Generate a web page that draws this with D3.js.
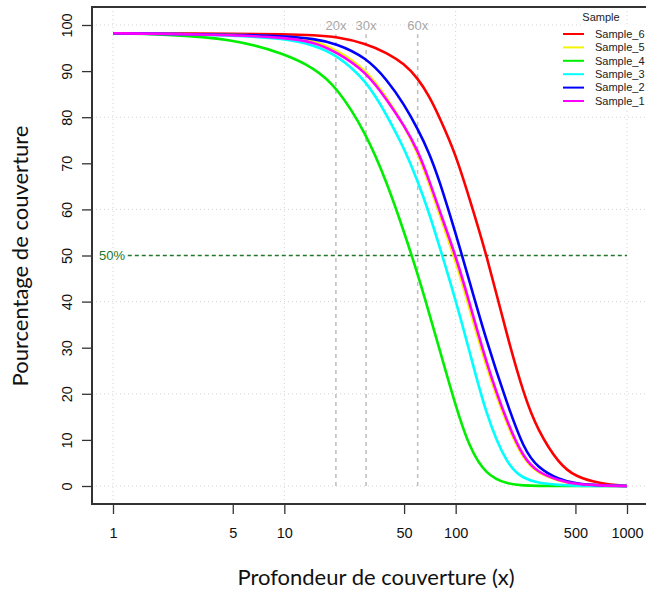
<!DOCTYPE html>
<html>
<head>
<meta charset="utf-8">
<script src="https://cdn.jsdelivr.net/npm/d3@7"></script>
<style>
  body { margin: 0; background: #fff; }
  svg { display: block; }
</style>
</head>
<body>
<div id="chart"></div>
<script>
// depth values (x) and coverage % per sample
var depths = [1, 2, 5, 10, 15, 20, 30, 40, 50, 60, 70, 80, 100, 120, 150, 200, 250, 300, 400, 500, 700, 1000];
var sample6 = [98.2, 98.2, 98.1, 98.0, 97.8, 97.5, 96.0, 93.9, 91.6, 88.5, 84.6, 80.2, 72.0, 62.5, 50.8, 32.4, 19.8, 12.2, 4.8, 2.0, 0.5, 0];
var sample5 = [98.2, 98.1, 97.9, 97.5, 96.6, 94.7, 90.4, 84.0, 78.2, 72.3, 65.6, 59.2, 48.8, 38.8, 26.0, 13.0, 5.6, 2.8, 1.1, 0.4, 0.1, 0];
var sample4 = [98.2, 98.0, 97.0, 93.8, 90.6, 86.8, 76.6, 65.5, 55.1, 46.0, 37.5, 30.0, 17.3, 8.4, 2.4, 0.4, 0.1, 0, 0, 0, 0, 0];
var sample3 = [98.2, 98.1, 97.7, 97.1, 95.6, 93.6, 88.1, 80.2, 73.3, 66.2, 59.2, 52.3, 40.3, 29.5, 15.5, 4.3, 1.6, 0.7, 0.2, 0.05, 0, 0];
var sample2 = [98.2, 98.1, 97.9, 97.6, 97.0, 96.0, 93.0, 88.0, 82.8, 77.5, 72.3, 66.5, 54.8, 44.6, 31.9, 17.7, 8.0, 4.0, 1.4, 0.5, 0.1, 0];
var sample1 = [98.2, 98.1, 97.8, 97.3, 96.3, 94.2, 89.9, 83.6, 78.2, 72.9, 66.4, 60.0, 50.0, 40.0, 27.0, 13.6, 6.0, 3.0, 1.2, 0.4, 0.1, 0];

var sampleNames = ["Sample_6", "Sample_5", "Sample_4", "Sample_3", "Sample_2", "Sample_1"];
var sampleColors = ["#ff0000", "#f5f500", "#00ee00", "#00ffff", "#0000ff", "#ff00ff"];
var sampleValues = [sample6, sample5, sample4, sample3, sample2, sample1];

var xTicks = [1, 5, 10, 50, 100, 500, 1000];
var xGrid = [1, 10, 100, 1000];
var yTicks = [0, 10, 20, 30, 40, 50, 60, 70, 80, 90, 100];
var yGrid = [0, 20, 40, 60, 80, 100];
var depthMarks = [20, 30, 60];

var width = 646, height = 591;
var svg = d3.select("#chart").append("svg")
  .attr("width", width)
  .attr("height", height);

var x = d3.scaleLog().domain([1, 1000]).range([113, 627]);
var y = d3.scaleLinear().domain([0, 100]).range([486, 25]);

// R style 4% padding of the plot region
var boxLeft = Math.round(x(Math.pow(10, -0.12))), boxRight = x(Math.pow(10, 3.12));
var boxTop = Math.round(y(104)), boxBottom = Math.round(y(-4));

// grid
svg.append("g").selectAll("line")
  .data(xGrid)
  .enter().append("line")
    .attr("x1", function(d) { return x(d); })
    .attr("x2", function(d) { return x(d); })
    .attr("y1", boxTop)
    .attr("y2", boxBottom)
    .attr("stroke", "#d3d3d3")
    .attr("stroke-dasharray", "1,3");

svg.append("g").selectAll("line")
  .data(yGrid)
  .enter().append("line")
    .attr("x1", boxLeft)
    .attr("x2", boxRight)
    .attr("y1", function(d) { return y(d); })
    .attr("y2", function(d) { return y(d); })
    .attr("stroke", "#d3d3d3")
    .attr("stroke-dasharray", "1,3");

// depth markers 20x 30x 60x
var marks = svg.append("g");
marks.selectAll("line")
  .data(depthMarks)
  .enter().append("line")
    .attr("x1", function(d) { return x(d); })
    .attr("x2", function(d) { return x(d); })
    .attr("y1", y(0))
    .attr("y2", y(98))
    .attr("stroke", "#bdbdbd")
    .attr("stroke-width", 1.5)
    .attr("stroke-dasharray", "4,4");
marks.selectAll("text")
  .data(depthMarks)
  .enter().append("text")
    .attr("x", function(d) { return x(d); })
    .attr("y", y(100))
    .attr("dy", "0.35em")
    .attr("text-anchor", "middle")
    .attr("font-family", "Liberation Sans, Arial, sans-serif")
    .attr("font-size", 13)
    .attr("fill", "#a8a8a8")
    .text(function(d) { return d + "x"; });

// 50% line
svg.append("line")
  .attr("x1", x(1.22))
  .attr("x2", x(1000))
  .attr("y1", y(50))
  .attr("y2", y(50))
  .attr("stroke", "#22772a")
  .attr("stroke-width", 1.4)
  .attr("stroke-dasharray", "4,3");
svg.append("text")
  .attr("x", 99)
  .attr("y", y(50))
  .attr("dy", "0.35em")
  .attr("font-family", "Liberation Sans, Arial, sans-serif")
  .attr("font-size", 13)
  .attr("fill", "#22772a")
  .text("50%");

// curves
var curveLine = d3.line()
  .curve(d3.curveBasis)
  .x(function(d) { return x(d[0]); })
  .y(function(d) { return y(d[1]); });

sampleValues.forEach(function(vals, i) {
  var pts = depths.map(function(d, j) { return [d, vals[j]]; });
  svg.append("path")
    .datum(pts)
    .attr("fill", "none")
    .attr("stroke", sampleColors[i])
    .attr("stroke-width", 2.6)
    .attr("stroke-linejoin", "round")
    .attr("d", curveLine);
});

// axes
svg.append("g")
  .attr("transform", "translate(0," + boxBottom + ")")
  .call(d3.axisBottom(x).tickValues(xTicks).tickFormat(d3.format("d")).tickSize(10).tickPadding(14))
  .call(function(g) { g.select(".domain").remove(); })
  .call(function(g) {
    g.selectAll("line").attr("stroke", "#333").attr("stroke-width", 1.3);
    g.selectAll("text").attr("font-family", "Liberation Sans, Arial, sans-serif").attr("font-size", 14.5).attr("fill", "#111");
  });

var yAxis = svg.append("g")
  .attr("transform", "translate(" + boxLeft + ",0)")
  .call(d3.axisLeft(y).tickValues(yTicks).tickSize(10).tickFormat(d3.format("d")))
  .call(function(g) { g.select(".domain").remove(); });
yAxis.selectAll("line").attr("stroke", "#333").attr("stroke-width", 1.3);
yAxis.selectAll("text")
  .attr("x", null)
  .attr("dy", null)
  .attr("text-anchor", "middle")
  .attr("transform", "translate(-20,0) rotate(-90)")
  .attr("font-family", "Liberation Sans, Arial, sans-serif")
  .attr("font-size", 14.5)
  .attr("fill", "#111");

// axis titles
svg.append("text")
  .attr("x", 376)
  .attr("y", 585)
  .attr("text-anchor", "middle")
  .attr("font-family", "Lato, sans-serif")
  .attr("font-size", 22)
  .attr("fill", "#111")
  .text("Profondeur de couverture (x)");

svg.append("text")
  .attr("transform", "translate(28," + 256 + ") rotate(-90)")
  .attr("text-anchor", "middle")
  .attr("font-family", "Lato, sans-serif")
  .attr("font-size", 22)
  .attr("fill", "#111")
  .text("Pourcentage de couverture");

// legend
var legend = svg.append("g").attr("class", "legend");
legend.append("rect")
  .attr("x", 583)
  .attr("y", 24.5)
  .attr("width", 62)
  .attr("height", 86)
  .attr("fill", "#fff");
legend.append("text")
  .attr("x", 601)
  .attr("y", 21)
  .attr("text-anchor", "middle")
  .attr("font-family", "Liberation Sans, Arial, sans-serif")
  .attr("font-size", 11)
  .attr("fill", "#222")
  .text("Sample");

legend.selectAll("g")
  .data(sampleNames)
  .enter().append("g")
  .each(function(d, i) {
    var ly = 34 + i * 13.4;
    d3.select(this).append("line")
      .attr("x1", 563)
      .attr("x2", 584)
      .attr("y1", ly)
      .attr("y2", ly)
      .attr("stroke", sampleColors[i])
      .attr("stroke-width", 2);
    d3.select(this).append("text")
      .attr("x", 595)
      .attr("y", ly)
      .attr("dy", "0.35em")
      .attr("font-family", "Liberation Sans, Arial, sans-serif")
      .attr("font-size", 11)
      .attr("fill", "#222")
      .text(d);
  });

// box around the plot, drawn last (right edge falls off the page)
svg.append("rect")
  .attr("x", boxLeft)
  .attr("y", boxTop)
  .attr("width", boxRight - boxLeft)
  .attr("height", boxBottom - boxTop)
  .attr("fill", "none")
  .attr("stroke", "#333333")
  .attr("stroke-width", 2);
</script>
</body>
</html>
